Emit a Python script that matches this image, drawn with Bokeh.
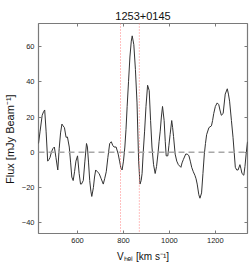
from bokeh.plotting import figure
from bokeh.models import Span, LinearAxis, FixedTicker, Range1d
from bokeh.embed import file_html
from bokeh.resources import INLINE

title_text = "1253+0145"
x_label = "V\u2095\u2091\u2097 [km s\u207b\u00b9]"
y_label = "Flux [mJy Beam\u207b\u00b9]" + "\u00a0" * 7

velocity = [430, 437, 446, 452, 457, 463, 470, 476, 480, 486, 492, 499, 506, 514, 520, 526,
            532, 537, 543, 550, 556, 564, 570, 575, 581, 587, 593, 600, 607, 613, 617, 625,
            632, 639, 643, 648, 653, 658, 662, 669, 674, 679, 686, 694, 703, 712, 718, 725,
            732, 740, 747, 753, 759, 768, 777, 783, 789, 794, 800, 806, 811, 816, 822, 828,
            834, 838, 845, 852, 859, 866, 872, 877, 881, 886, 892, 898, 905, 912, 918, 924,
            931, 938, 944, 950, 955, 960, 965, 970, 977, 982, 986, 993, 998, 1003, 1010, 1014,
            1018, 1025, 1032, 1039, 1050, 1055, 1061, 1071, 1078, 1085, 1091, 1097, 1104, 1111,
            1116, 1121, 1128, 1133, 1140, 1146, 1152, 1157, 1162, 1172, 1183, 1188, 1193, 1200,
            1208, 1215, 1220, 1226, 1234, 1243, 1252, 1257, 1262, 1270, 1277, 1282, 1287, 1293,
            1299, 1307, 1311, 1316, 1324, 1329, 1334, 1340]
flux = [5, 12, 21, 23, 24, 12, -5, -4, -3, 0, 2, 3, -3, -10, 2, 11,
        16, 15, 14, 8.5, 8.7, 3, -6, -14, -16, -11, -5, -2, -12, -18, -18, -16,
        -5, 5, 3, -6, -16, -22, -25, -20, -14, -10, -11, -12, -15, -18, -15, -11,
        -3, 5, 6, 4, 3, 3, -1, -5, -9, -10, -5, 3, 13, 26, 40, 54,
        63, 66, 61, 47, 28, -5, -18, -16, -12, 0, 12, 26, 38, 35, 18, 3,
        -7, -12, -8, -1, 6, 12, 20, 26, 18, 6, -2, -2, 4, 10, 18, 14,
        9, -1, -5, -7, -8.5, -6, -4, -1, -1, -2, -5, -8.5, -11, -13,
        -15, -18, -24, -26, -23, -12, -1, 5, 10, 14, 15, 18, 22, 26,
        28, 27, 24, 21, 22, 33, 36, 33, 29, 18, 8.5, 0, -8.5, -10,
        -10, -7, -9, -12, -13, -8, -1, 6]

line_velocities = [787, 869]
x_ticks = [600, 800, 1000, 1200]
y_ticks = [-40, -20, 0, 20, 40, 60]
x_lim = (430, 1340)
y_lim = (-46, 73)

FONT = "Liberation Sans"
FRAME = "#7a7a7a"

p = figure(width=249, height=265, x_range=Range1d(*x_lim), y_range=Range1d(*y_lim),
           output_backend="svg", toolbar_location=None, title=title_text,
           min_border_left=36, min_border_right=2, min_border_top=23, min_border_bottom=32)
p.grid.visible = False
p.outline_line_color = FRAME
p.outline_line_width = 1.2
p.background_fill_color = "white"
p.border_fill_color = "white"

p.title.align = "center"
p.title.text_font = FONT
p.title.text_font_size = "11px"
p.title.text_font_style = "normal"
p.title.text_color = "#111111"
p.title.standoff = 8

for ax, tk in ((p.xaxis[0], x_ticks), (p.yaxis[0], y_ticks)):
    ax.ticker = FixedTicker(ticks=tk)
    ax.axis_line_color = None
    ax.major_tick_in = 3
    ax.major_tick_out = 0
    ax.major_tick_line_color = FRAME
    ax.minor_tick_line_color = None
    ax.major_label_text_font = FONT
    ax.major_label_text_font_size = "7.5px"
    ax.major_label_text_color = "#222222"
    ax.major_label_standoff = 4
    ax.axis_label_text_font = FONT
    ax.axis_label_text_font_style = "normal"
    ax.axis_label_text_color = "#111111"

p.xaxis.axis_label = x_label
p.xaxis.axis_label_text_font_size = "10px"
p.xaxis.axis_label_standoff = 5
p.yaxis.axis_label = y_label
p.yaxis.axis_label_text_font_size = "11px"
p.yaxis.axis_label_standoff = 3

for loc, tk in (("above", x_ticks), ("right", y_ticks)):
    ax = LinearAxis(ticker=FixedTicker(ticks=tk))
    ax.axis_line_color = None
    ax.major_tick_in = 3
    ax.major_tick_out = 0
    ax.major_tick_line_color = FRAME
    ax.minor_tick_line_color = None
    ax.major_label_overrides = {t: "" for t in tk}
    ax.major_label_text_font_size = "1px"
    ax.major_label_standoff = 0
    p.add_layout(ax, loc)

p.add_layout(Span(location=0, dimension="width", line_color="#a8a8a8",
                  line_width=1.5, line_dash="6 4"))
for lv in line_velocities:
    p.add_layout(Span(location=lv, dimension="height", line_color="#ff8080",
                      line_width=1, line_dash="1 2"))

p.line(velocity, flux, line_color="#333333", line_width=1)

open("out.html", "w").write(file_html(p, INLINE))
